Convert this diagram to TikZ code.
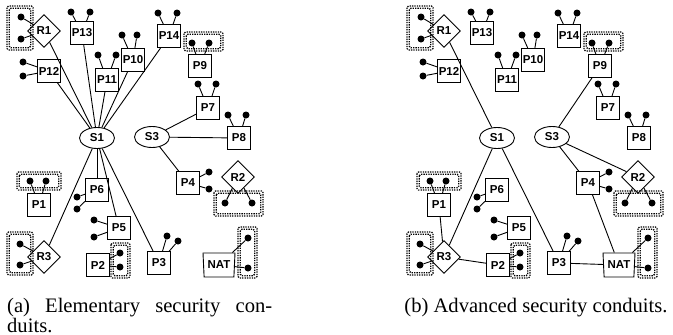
\documentclass[tikz,border=0pt]{standalone}
\usepackage{fontspec}
\setsansfont{Liberation Sans}
\newfontfamily\capfont{Liberation Serif}
\usetikzlibrary{shapes.geometric}
\newcommand\twodots[3]{%
  \node[dot] (#1-d1) at (#2) {};
  \node[dot] (#1-d2) at (#3) {};
  \draw[link] (#1-d1) -- (#1);
  \draw[link] (#1-d2) -- (#1);}
\newcommand\zonebox[4]{%
  \draw[zone] (#1,#2) rectangle (#3,#4);
  \draw[zone] (#1+2.3,#2+2.3) rectangle (#3-2.3,#4-2.3);}
\newcommand\netlayout{%
  \node[rdiam] (R1) at (44,31) {R1};
  \node[pbox] (P13) at (82,33) {P13};
  \node[pbox] (P12) at (49,71) {P12};
  \node[pbox] (P11) at (107,80) {P11};
  \node[pbox] (P10) at (133,60) {P10};
  \node[pbox] (P14) at (169,36) {P14};
  \node[pbox] (P9) at (200,66) {P9};
  \node[pbox] (P7) at (208,108) {P7};
  \node[pbox] (P8) at (239,138) {P8};
  \node[sell] (S1) at (97,138) {S1};
  \node[sell] (S3) at (152,137) {S3};
  \node[pbox] (P6) at (97,190) {P6};
  \node[pbox] (P1) at (39,205) {P1};
  \node[pbox] (P5) at (119,228) {P5};
  \node[rdiam] (R3) at (44,257) {R3};
  \node[pbox] (P2) at (98,265) {P2};
  \node[pbox] (P3) at (159,263) {P3};
  \node[pbox] (P4) at (188,183) {P4};
  \node[rdiam] (R2) at (238,177) {R2};
  \node[nat] (NAT) at (219,265) {NAT};
  \twodots{R1}{21,17}{21,39}
  \twodots{P13}{71,12}{90,12}
  \twodots{P12}{23,62}{23,76}
  \twodots{P11}{98,55}{116,55}
  \twodots{P10}{122,35}{137,35}
  \twodots{P14}{158,13}{177,13}
  \twodots{P9}{192,43}{209,43}
  \twodots{P7}{198,84}{216,84}
  \twodots{P8}{228,115}{246,115}
  \twodots{P6}{77,197}{77,209}
  \twodots{P1}{30,181}{46,181}
  \twodots{P5}{94,220}{94,237}
  \twodots{R3}{20,244}{20,265}
  \twodots{P2}{120,253}{120,267}
  \twodots{P3}{167,236}{178,241}
  \twodots{P4}{209,172}{209,189}
  \twodots{R2}{225,203}{252,203}
  \twodots{NAT}{248,238}{248,268}
  \zonebox{7}{6}{33}{50}
  \zonebox{184}{32}{223}{51}
  \zonebox{17}{172}{61}{190}
  \zonebox{7}{232}{33}{275}
  \zonebox{111}{243}{130}{278}
  \zonebox{214}{191}{263}{216}
  \zonebox{238}{227}{257}{278}}
\begin{document}
\begin{tikzpicture}[x=1pt,y=-1pt,
  lab/.style={font=\sffamily\bfseries\fontsize{11.5}{13}\selectfont},
  pbox/.style={lab,draw,line width=0.9pt,minimum size=23pt,inner sep=0pt},
  rdiam/.style={lab,draw,line width=0.9pt,diamond,minimum width=33pt,minimum height=33pt,inner sep=0pt},
  sell/.style={lab,draw,line width=0.9pt,ellipse,minimum width=35pt,minimum height=21pt,inner sep=0pt},
  nat/.style={lab,draw,line width=0.9pt,trapezium,shape border rotate=180,trapezium left angle=82,trapezium right angle=82,minimum height=24pt,minimum width=32pt,inner xsep=0.5pt,inner ysep=0pt,trapezium stretches body},
  dot/.style={circle,fill,inner sep=0pt,minimum size=7pt},
  link/.style={line width=0.9pt},
  zone/.style={line width=1.3pt,dash pattern=on 1.3pt off 1.1pt,rounded corners=1.5pt},
  captxt/.style={inner sep=0pt,font=\capfont\fontsize{20.6}{20}\selectfont}]
\useasboundingbox[fill=white] (0,0) rectangle (673,335);
\begin{scope}[name prefix=a-]
  \netlayout
  \foreach \n in {R1,P12,P13,P11,P10,P14,R3,P6,P5,P3}{\draw[link] (S1) -- (\n);}
  \foreach \n in {P7,P8,P4}{\draw[link] (S3) -- (\n);}
\end{scope}
\begin{scope}[name prefix=b-,xshift=400pt]
  \netlayout
  \foreach \n in {R1,R3,P3}{\draw[link] (S1) -- (\n);}
  \foreach \n in {P9,P4,R2}{\draw[link] (S3) -- (\n);}
  \draw[link] (P1) -- (R3);
  \draw[link] (R3) -- (P2);
  \draw[link] (P4) -- (NAT);
  \draw[link] (P3) -- (NAT);
\end{scope}
\node[captxt,anchor=base west] (capa1) at (7,312) {\makebox[265pt][s]{(a) Elementary security con-}};
\node[captxt,anchor=base west] (capa2) at (7,332) {duits.};
\node[captxt,anchor=base] (capb) at (536,312) {(b) Advanced security conduits.};
\end{tikzpicture}
\end{document}
